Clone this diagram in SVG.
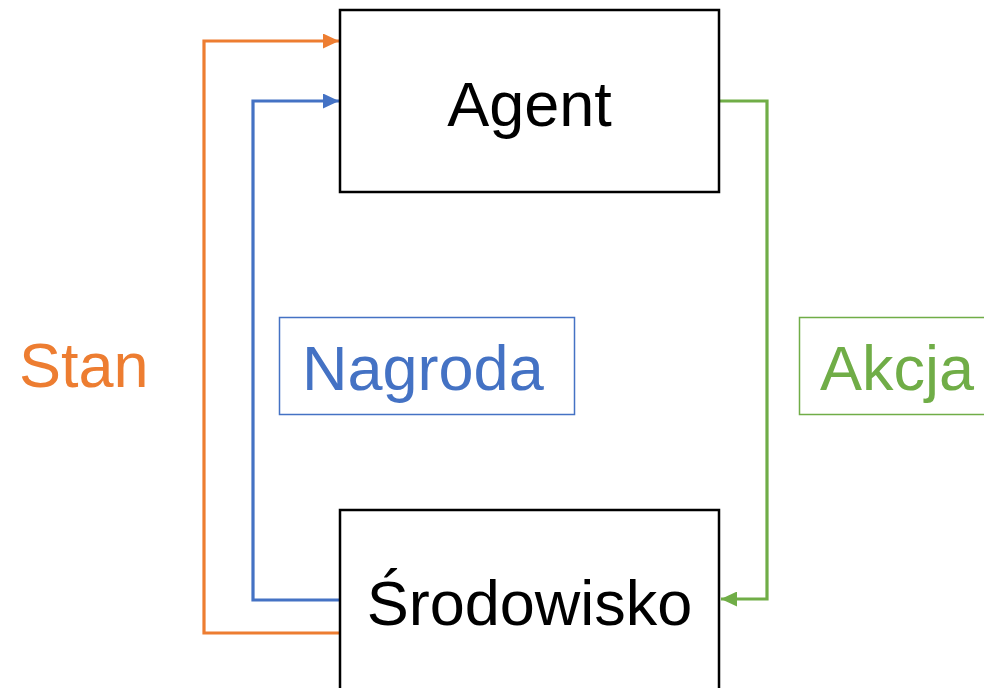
<svg xmlns="http://www.w3.org/2000/svg" width="984" height="688" viewBox="0 0 984 688">
  <style>
    .node { fill: #ffffff; stroke: #000000; stroke-width: 2.5; }
    .lbl { font-family: "Liberation Sans", Arial, sans-serif; font-size: 63px; }
    .wire { fill: none; stroke-width: 3.2; }
    .orange { stroke: #ED7D31; }
    .blue { stroke: #4472C4; }
    .green { stroke: #70AD47; }
    .tag { fill: #ffffff; stroke-width: 1.5; }
  </style>
  <defs>
    <marker id="arrOrange" markerWidth="16" markerHeight="15" refX="16" refY="7.5" orient="auto" markerUnits="userSpaceOnUse">
      <path d="M0,0 L16,7.5 L0,15 Z" fill="#ED7D31"/>
    </marker>
    <marker id="arrBlue" markerWidth="16" markerHeight="15" refX="16" refY="7.5" orient="auto" markerUnits="userSpaceOnUse">
      <path d="M0,0 L16,7.5 L0,15 Z" fill="#4472C4"/>
    </marker>
    <marker id="arrGreen" markerWidth="16" markerHeight="15" refX="16" refY="7.5" orient="auto" markerUnits="userSpaceOnUse">
      <path d="M0,0 L16,7.5 L0,15 Z" fill="#70AD47"/>
    </marker>
  </defs>

  <rect width="984" height="688" fill="#ffffff"/>

  <!-- connectors -->
  <g id="connectors">
    <path class="wire orange" d="M340,633 H204 V41 H339" marker-end="url(#arrOrange)"/>
    <path class="wire blue" d="M340,600 H253 V101 H339" marker-end="url(#arrBlue)"/>
    <path class="wire green" d="M719,101 H767 V599 H721" marker-end="url(#arrGreen)"/>
  </g>

  <!-- nodes -->
  <g id="agent">
    <rect class="node" x="340" y="10" width="379" height="182"/>
    <text class="lbl" x="529.5" y="126" text-anchor="middle" fill="#000000">Agent</text>
  </g>
  <g id="srodowisko">
    <rect class="node" x="340" y="510" width="379" height="190"/>
    <text class="lbl" x="529.5" y="625" text-anchor="middle" fill="#000000">Środowisko</text>
  </g>

  <!-- edge labels -->
  <g id="label-stan">
    <text class="lbl" x="19" y="387" fill="#ED7D31">Stan</text>
  </g>
  <g id="label-nagroda">
    <rect class="tag" x="279.5" y="317.5" width="295" height="97" stroke="#4472C4"/>
    <text class="lbl" x="302" y="390" fill="#4472C4">Nagroda</text>
  </g>
  <g id="label-akcja">
    <rect class="tag" x="799.5" y="317.5" width="200" height="97" stroke="#70AD47"/>
    <text class="lbl" x="820" y="390" fill="#70AD47">Akcja</text>
  </g>
</svg>
